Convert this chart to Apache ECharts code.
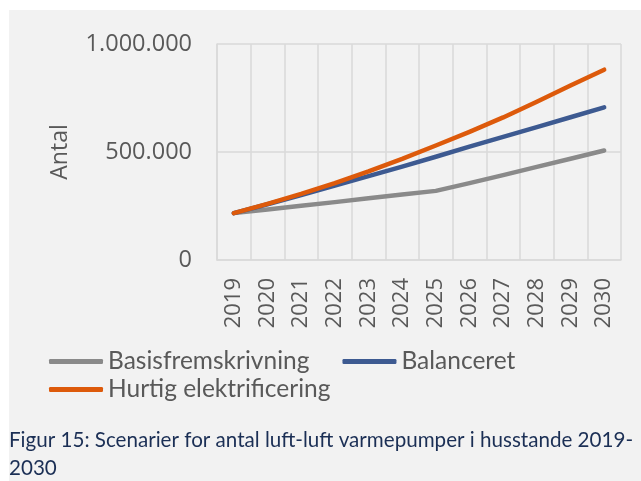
<!DOCTYPE html>
<html>
<head>
<meta charset="utf-8">
<script src="https://cdn.jsdelivr.net/npm/echarts@6/dist/echarts.min.js"></script>
<style>
  html, body { margin: 0; padding: 0; background: #ffffff; }
  #chart { position: absolute; left: 9px; top: 10px; width: 632px; height: 471px; background: #f2f2f2; }
</style>
</head>
<body>
<div id="chart"></div>
<script>
const years = ['2019', '2020', '2021', '2022', '2023', '2024', '2025', '2026', '2027', '2028', '2029', '2030'];
const basis = [217000, 234000, 251000, 268000, 286000, 303000, 320000, 356000, 393000, 431000, 469000, 507000];
const balanceret = [217000, 258000, 300000, 344000, 388000, 432000, 478000, 525000, 570000, 615000, 661000, 707000];
const hurtig = [217000, 260000, 306000, 356000, 410000, 468000, 530000, 593000, 660000, 733000, 808000, 881000];
const yTicks = [0, 500000, 1000000];

const labelColor = '#595959';
const gridColor = '#d9d9d9';

const chart = echarts.init(document.getElementById('chart'));

// tal med punktum som tusindtalsseparator
function fmt(v) {
    return String(v).replace(/\B(?=(\d{3})+(?!\d))/g, '.');
}

const option = {
    animation: false,
    title: {
        text: 'Figur 15: Scenarier for antal luft-luft varmepumper i husstande 2019-\n2030',
        left: 0,
        top: 417,
        padding: 0,
        textStyle: {
            color: '#1b2f55',
            fontFamily: 'Lato',
            fontWeight: 'normal',
            fontSize: 20.6,
            lineHeight: 27.5
        }
    },
    grid: {
        left: 208,
        right: 20,
        top: 34,
        bottom: 221,
        containLabel: false
    },
    legend: [
        {
            left: 40,
            top: 339,
            padding: 0,
            itemGap: 33,
            itemWidth: 54,
            itemHeight: 5,
            icon: 'roundRect',
            data: ['Basisfremskrivning', 'Balanceret'],
            textStyle: { color: labelColor, fontFamily: 'Lato', fontSize: 24.5 }
        },
        {
            left: 40,
            top: 367,
            padding: 0,
            itemWidth: 54,
            itemHeight: 5,
            icon: 'roundRect',
            data: ['Hurtig elektrificering'],
            textStyle: { color: labelColor, fontFamily: 'Lato', fontSize: 24.5 }
        }
    ],
    xAxis: {
        type: 'category',
        data: years,
        boundaryGap: true,
        axisLine: { lineStyle: { color: gridColor, width: 1.5 } },
        axisTick: { show: false },
        splitLine: { show: true, lineStyle: { color: gridColor, width: 1.5 } },
        axisLabel: {
            rotate: 90,
            margin: 18,
            color: labelColor,
            fontFamily: 'Open Sans',
            fontSize: 22
        }
    },
    yAxis: {
        type: 'value',
        min: yTicks[0],
        max: yTicks[yTicks.length - 1],
        interval: yTicks[1] - yTicks[0],
        name: 'Antal',
        nameLocation: 'middle',
        nameGap: 145,
        nameTextStyle: { color: labelColor, fontFamily: 'Open Sans', fontSize: 23 },
        axisLine: { show: true, lineStyle: { color: gridColor, width: 1.5 } },
        axisTick: { show: false },
        splitLine: { lineStyle: { color: gridColor, width: 1.5 } },
        axisLabel: {
            margin: 25,
            color: labelColor,
            fontFamily: 'Open Sans',
            fontSize: 23.5,
            formatter: fmt
        }
    },
    series: [
        {
            name: 'Basisfremskrivning',
            type: 'line',
            data: basis,
            symbol: 'none',
            color: '#8a8a8a',
            lineStyle: { width: 4.5, cap: 'round', join: 'round' },
            z: 2
        },
        {
            name: 'Balanceret',
            type: 'line',
            data: balanceret,
            symbol: 'none',
            color: '#3d5a91',
            lineStyle: { width: 4.5, cap: 'round', join: 'round' },
            z: 3
        },
        {
            name: 'Hurtig elektrificering',
            type: 'line',
            data: hurtig,
            symbol: 'none',
            color: '#dd5a0b',
            lineStyle: { width: 4.5, cap: 'round', join: 'round' },
            z: 4
        }
    ]
};

chart.setOption(option);
</script>
</body>
</html>
